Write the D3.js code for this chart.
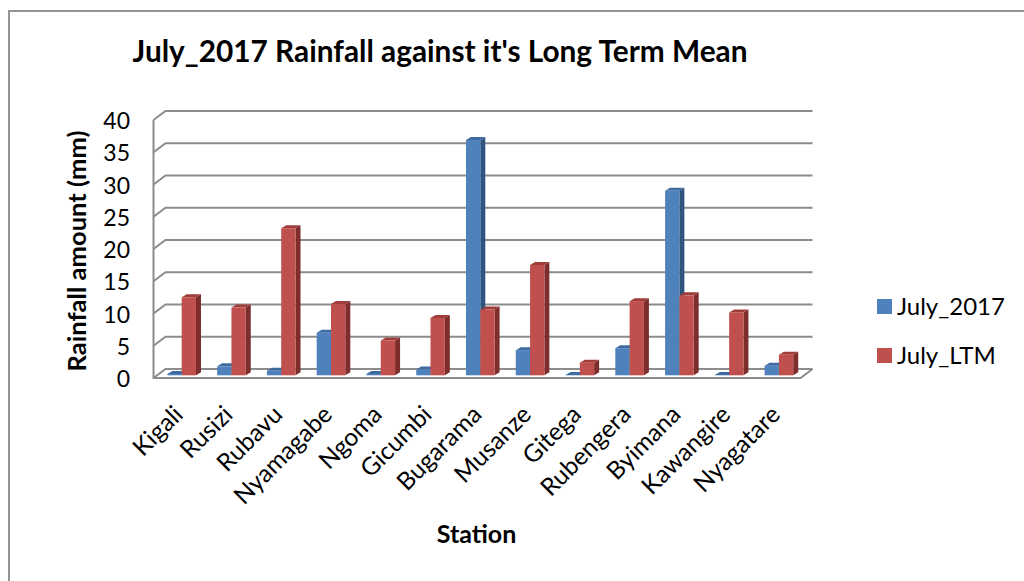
<!DOCTYPE html>
<html lang="en">
<head>
  <meta charset="UTF-8" />
  <title>July 2017 Rainfall</title>
  <style>
    body {
      margin: 0;
      background: white;
      overflow: hidden;
    }
    svg {
      display: block;
    }
    text {
      font-family: Lato, "Open Sans", sans-serif;
      fill: #000;
    }
  </style>
</head>
<body>
<svg width="1024" height="581"></svg>
<script src="https://d3js.org/d3.v7.min.js"></script>
<script>
const stations = ["Kigali", "Rusizi", "Rubavu", "Nyamagabe", "Ngoma", "Gicumbi", "Bugarama",
  "Musanze", "Gitega", "Rubengera", "Byimana", "Kawangire", "Nyagatare"];
const july2017 = [0.2, 1.4, 0.7, 6.6, 0.2, 0.9, 36.5, 3.9, 0.05, 4.2, 28.6, 0.05, 1.5];
const julyLTM = [12.1, 10.5, 22.8, 11.05, 5.4, 8.9, 10.2, 17.1, 1.95, 11.5, 12.4, 9.75, 3.2];
const yTicks = [0, 5, 10, 15, 20, 25, 30, 35, 40];
const seriesNames = ["July_2017", "July_LTM"];

const svg = d3.select("svg");

// front = the plane the bars stand on, back wall is shifted by depth
const depthX = 12, depthY = 9;
const barDepthX = 5, barDepthY = 3;

const y = d3.scaleLinear().domain([0, 40]).range([378, 120]);
const x = d3.scaleBand().domain(stations).range([153.5, 800.5]);
const sub = d3.scaleBand().domain(seriesNames).range([0, 28.6]);

const colors = {
  July_2017: { front: "#4f81bd", side: "#2f5480", top: "#3d6a9f" },
  July_LTM: { front: "#c0504d", side: "#7d2e2c", top: "#a03c39" }
};
const axisColor = "#8c8c8c";

// chart frame
svg.append("rect")
  .attr("x", 9).attr("y", 11)
  .attr("width", 1100).attr("height", 700)
  .attr("fill", "white")
  .attr("stroke", "#949494").attr("stroke-width", 2);

// gridlines and wall ticks
const grid = svg.append("g")
  .attr("fill", "none")
  .attr("stroke", axisColor)
  .attr("stroke-width", 2);

yTicks.forEach(t => {
  const yy = y(t);
  grid.append("path")
    .attr("d", d3.line()([[153.5, yy], [153.5 + depthX, yy - depthY], [800.5 + depthX, yy - depthY]]));
});

// floor and axes
grid.append("path").attr("d", d3.line()([[153.5, y(40)], [153.5, y(0)], [800.5, y(0)], [800.5 + depthX, y(0) - depthY]]));

// bars, drawn back to front
const barBase = y(0) - 2.7;
const barH = v => y(0) - y(v);
const bars = svg.append("g");

stations.forEach((s, i) => {
  seriesNames.forEach((name, k) => {
    const v = (k === 0 ? july2017 : julyLTM)[i];
    const c = colors[name];
    const x0 = x(s) + 3.3 + (x.bandwidth() - 28.6) / 2 + sub(name);
    const x1 = x0 + sub.bandwidth();
    const top = barBase - barH(v);

    bars.append("path")
      .attr("fill", c.side)
      .attr("d", d3.line()([[x1, top], [x1 + barDepthX, top - barDepthY], [x1 + barDepthX, barBase - barDepthY], [x1, barBase]]) + "Z");
    bars.append("path")
      .attr("fill", c.top)
      .attr("d", d3.line()([[x0, top], [x0 + barDepthX, top - barDepthY], [x1 + barDepthX, top - barDepthY], [x1, top]]) + "Z");
    bars.append("rect")
      .attr("x", x0).attr("y", top)
      .attr("width", sub.bandwidth()).attr("height", barH(v))
      .attr("fill", c.front);
  });
});

// y tick labels
svg.append("g").selectAll("text")
  .data(yTicks)
  .join("text")
  .attr("x", 130)
  .attr("y", d => y(d) + 9)
  .attr("text-anchor", "end")
  .attr("font-size", 23)
  .text(d => d);

// x tick labels rotated 45deg
svg.append("g").selectAll("text")
  .data(stations)
  .join("text")
  .attr("text-anchor", "end")
  .attr("font-size", 24.5)
  .attr("transform", d => `translate(${x(d) + x.bandwidth() / 2 + 6},${416}) rotate(-45)`)
  .text(d => d);

// titles
svg.append("text")
  .attr("x", 440).attr("y", 62)
  .attr("text-anchor", "middle")
  .attr("font-size", 29.8).attr("font-weight", 700)
  .text("July_2017 Rainfall against it's Long Term Mean");

svg.append("text")
  .attr("x", 476.5).attr("y", 543)
  .attr("text-anchor", "middle")
  .attr("font-size", 25).attr("font-weight", 700)
  .text("Station");

svg.append("text")
  .attr("transform", "translate(86,251) rotate(-90)")
  .attr("text-anchor", "middle")
  .attr("font-size", 25.6).attr("font-weight", 700)
  .text("Rainfall amount (mm)");

// legend
const legend = svg.append("g").selectAll("g")
  .data(seriesNames)
  .join("g")
  .attr("transform", (d, i) => `translate(877,${299 + i * 49})`);

legend.append("rect")
  .attr("width", 15).attr("height", 15)
  .attr("fill", d => colors[d].front);

legend.append("text")
  .attr("x", 20).attr("y", 16)
  .attr("font-size", 24)
  .text(d => d);
</script>
</body>
</html>
